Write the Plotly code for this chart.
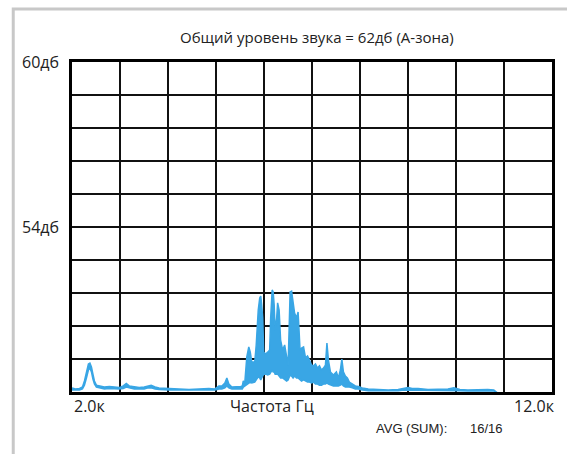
import plotly.graph_objects as go

# Frequency (Hz) and spectrum envelope (dB): upper and lower bounds of the dense trace
freq = [2000, 2073, 2156, 2218, 2259, 2301, 2342, 2373, 2405, 2436, 2467, 2508, 2571, 2674,
        2778, 2882, 2985, 3068, 3131, 3193, 3297, 3400, 3504, 3587, 3649, 3732, 3815, 4023,
        4230, 4438, 4645, 4853, 4977, 5060, 5122, 5185, 5226, 5268, 5330,
        5434, 5517, 5548, 5569, 5600, 5641, 5683, 5714, 5745, 5807, 5838, 5859, 5880, 5911,
        5932, 5952, 5973, 5994, 6036, 6077, 6118, 6139, 6170, 6191, 6212, 6232, 6264, 6284,
        6315, 6346, 6388, 6430, 6471, 6502, 6523, 6544, 6575, 6606, 6637, 6678, 6710, 6730,
        6751, 6782, 6824, 6865, 6907, 6948, 6990,
        7031, 7073, 7114, 7156, 7197, 7239, 7280, 7311, 7342, 7384, 7446, 7508, 7550, 7591,
        7622, 7654, 7695, 7737, 7778, 7840, 7903, 7965, 8048, 8172, 8338, 8587, 8795, 8919,
        9002, 9085, 9210, 9417, 9625, 9832, 9957, 10081, 10247, 10455, 10662, 10787, 10870,
        12000]

level_hi = [48.15, 48.11, 48.13, 48.18, 48.40, 48.73, 49.02, 49.05, 48.91, 48.65, 48.40, 48.25,
            48.22, 48.18, 48.20, 48.18, 48.16, 48.22, 48.31, 48.22, 48.18, 48.16, 48.18, 48.22,
            48.24, 48.18, 48.15, 48.13, 48.11, 48.09, 48.11, 48.13, 48.11, 48.22, 48.22, 48.33,
            48.51, 48.29, 48.18,
            48.18, 48.20, 48.22, 48.40, 48.33, 49.27, 49.64, 49.45, 49.09, 49.09, 49.71, 50.62,
            50.98, 51.42, 51.49, 51.16, 50.69, 49.45, 49.38, 49.45, 49.53, 50.69, 51.71, 51.64,
            51.16, 50.25, 50.69, 51.24, 50.98, 49.89, 49.53, 49.71, 49.35, 48.98, 50.25, 51.64,
            51.67, 51.35, 50.87, 50.69, 50.91, 50.25, 49.53, 49.60, 49.64, 49.24, 49.31, 49.16,
            48.98,
            48.95, 49.02, 48.87, 48.95, 48.80, 48.87, 48.98, 49.78, 49.16, 48.73, 48.62, 48.73,
            48.51, 48.80, 49.20, 48.73, 48.58, 48.51, 48.36, 48.29, 48.22, 48.20, 48.15, 48.11,
            48.09, 48.07, 48.09, 48.13, 48.16, 48.13, 48.13, 48.09, 48.11, 48.11, 48.15, 48.09,
            48.07, 48.09, 48.09, 48.07, 47.96, 47.93]

level_lo = [48.07, 48.07, 48.07, 48.11, 48.25, 48.51, 48.80, 48.87, 48.73, 48.47, 48.29, 48.18,
            48.15, 48.11, 48.13, 48.11, 48.11, 48.13, 48.18, 48.15, 48.11, 48.11, 48.11, 48.15,
            48.15, 48.11, 48.09, 48.07, 48.07, 48.05, 48.05, 48.07, 48.07, 48.11, 48.11, 48.15,
            48.22, 48.15, 48.11,
            48.11, 48.11, 48.11, 48.18, 48.22, 48.29, 48.33, 48.36, 48.33, 48.36, 48.44, 48.51,
            48.55, 48.51, 48.44, 48.51, 48.58, 48.65, 48.65, 48.62, 48.65, 48.73, 48.80, 48.73,
            48.73, 48.65, 48.65, 48.65, 48.58, 48.51, 48.51, 48.44, 48.40, 48.44, 48.51, 48.62,
            48.58, 48.51, 48.58, 48.51, 48.51, 48.47, 48.44, 48.40, 48.44, 48.40, 48.36, 48.36,
            48.33,
            48.36, 48.29, 48.29, 48.25, 48.25, 48.29, 48.29, 48.33, 48.29, 48.25, 48.22, 48.22,
            48.22, 48.25, 48.29, 48.22, 48.18, 48.18, 48.18, 48.15, 48.11, 48.11, 48.07, 48.05,
            48.05, 48.04, 48.05, 48.07, 48.07, 48.07, 48.07, 48.05, 48.05, 48.05, 48.07, 48.05,
            48.04, 48.05, 48.05, 48.04, 47.93, 47.89]

title_text = "Общий уровень звука = 62дб (А-зона)"
y_labels = {60: "60дб", 54: "54дб"}
x_left_label, x_right_label = "2.0к", "12.0к"
x_title = "Частота Гц"
avg_label, avg_value = "AVG (SUM):", "16/16"

BLUE = "#39a6e5"
FONT = "Open Sans"
TXT = "#222"

fig = go.Figure()
fig.add_trace(go.Scatter(x=freq, y=level_lo, mode="lines",
                         line=dict(color=BLUE, width=1.5), hoverinfo="skip", showlegend=False))
fig.add_trace(go.Scatter(x=freq, y=level_hi, mode="lines", fill="tonexty", fillcolor=BLUE,
                         line=dict(color=BLUE, width=1.5), showlegend=False))

W, H = 567, 454
PL, PT, PR, PB = 72, 62, 554, 392   # plot box in window pixels
L, T, R, B = PL, PT, W - PR, H - PB
pw, ph = PR - PL, PB - PT


def px_x(px):  # window pixel -> paper x
    return (px - PL) / pw


def px_y(py):  # window pixel -> paper y
    return (PB - py) / ph


fig.update_layout(
    width=W, height=H,
    margin=dict(l=L, r=R, t=T, b=B, pad=0),
    paper_bgcolor="white", plot_bgcolor="white",
    font=dict(family=FONT, size=14, color=TXT),
    xaxis=dict(range=[2000, 12000], tickmode="linear", tick0=2000, dtick=1000,
               showticklabels=False, ticks="", showgrid=True, gridcolor="#111", gridwidth=1.5,
               showline=True, linecolor="black", linewidth=2.5, mirror=True, zeroline=False),
    yaxis=dict(range=[48, 60], tickmode="linear", tick0=48, dtick=1.2,
               showticklabels=False, ticks="", showgrid=True, gridcolor="#111", gridwidth=1.5,
               showline=True, linecolor="black", linewidth=2.5, mirror=True, zeroline=False),
)

ann = []
ann.append(dict(text=title_text, xref="paper", yref="paper", x=px_x(318), y=px_y(37),
                xanchor="center", yanchor="middle", showarrow=False,
                font=dict(family=FONT, size=15, color=TXT)))
for v, t in y_labels.items():
    ann.append(dict(text=t, xref="paper", yref="y", x=px_x(61), y=v, xanchor="right",
                    yanchor="middle", showarrow=False, font=dict(family=FONT, size=16, color=TXT)))
ann.append(dict(text=x_left_label, xref="x", yref="paper", x=2000, y=px_y(406), xanchor="left",
                yanchor="middle", showarrow=False, font=dict(family=FONT, size=16, color=TXT)))
ann.append(dict(text=x_right_label, xref="x", yref="paper", x=12000, y=px_y(406), xanchor="right",
                xshift=5, yanchor="middle", showarrow=False,
                font=dict(family=FONT, size=16, color=TXT)))
ann.append(dict(text=x_title, xref="paper", yref="paper", x=px_x(272.5), y=px_y(406),
                xanchor="center", yanchor="middle", showarrow=False,
                font=dict(family=FONT, size=16, color=TXT)))
ann.append(dict(text=avg_label, xref="paper", yref="paper", x=px_x(375), y=px_y(428.5),
                xanchor="left", yanchor="middle", showarrow=False,
                font=dict(family="Liberation Sans", size=13, color=TXT)))
ann.append(dict(text=avg_value, xref="paper", yref="paper", x=px_x(470), y=px_y(428.5),
                xanchor="left", yanchor="middle", showarrow=False,
                font=dict(family="Liberation Sans", size=13, color=TXT)))
fig.update_layout(annotations=ann)

# light gray frame (top and left edges of the panel)
fig.update_layout(shapes=[
    dict(type="rect", xref="paper", yref="paper", x0=px_x(13), x1=px_x(600),
         y0=px_y(500), y1=px_y(9), line=dict(color="#c8c8c8", width=3),
         fillcolor="rgba(0,0,0,0)", layer="above"),
])

# remove the browser's default page margin so the figure sits at the window origin
page_js = ("document.documentElement.style.margin='0';document.body.style.margin='0';"
           "document.documentElement.style.overflow='hidden';document.body.style.overflow='hidden';")
fig.write_html("out.html", post_script=page_js, config={"displayModeBar": False})
